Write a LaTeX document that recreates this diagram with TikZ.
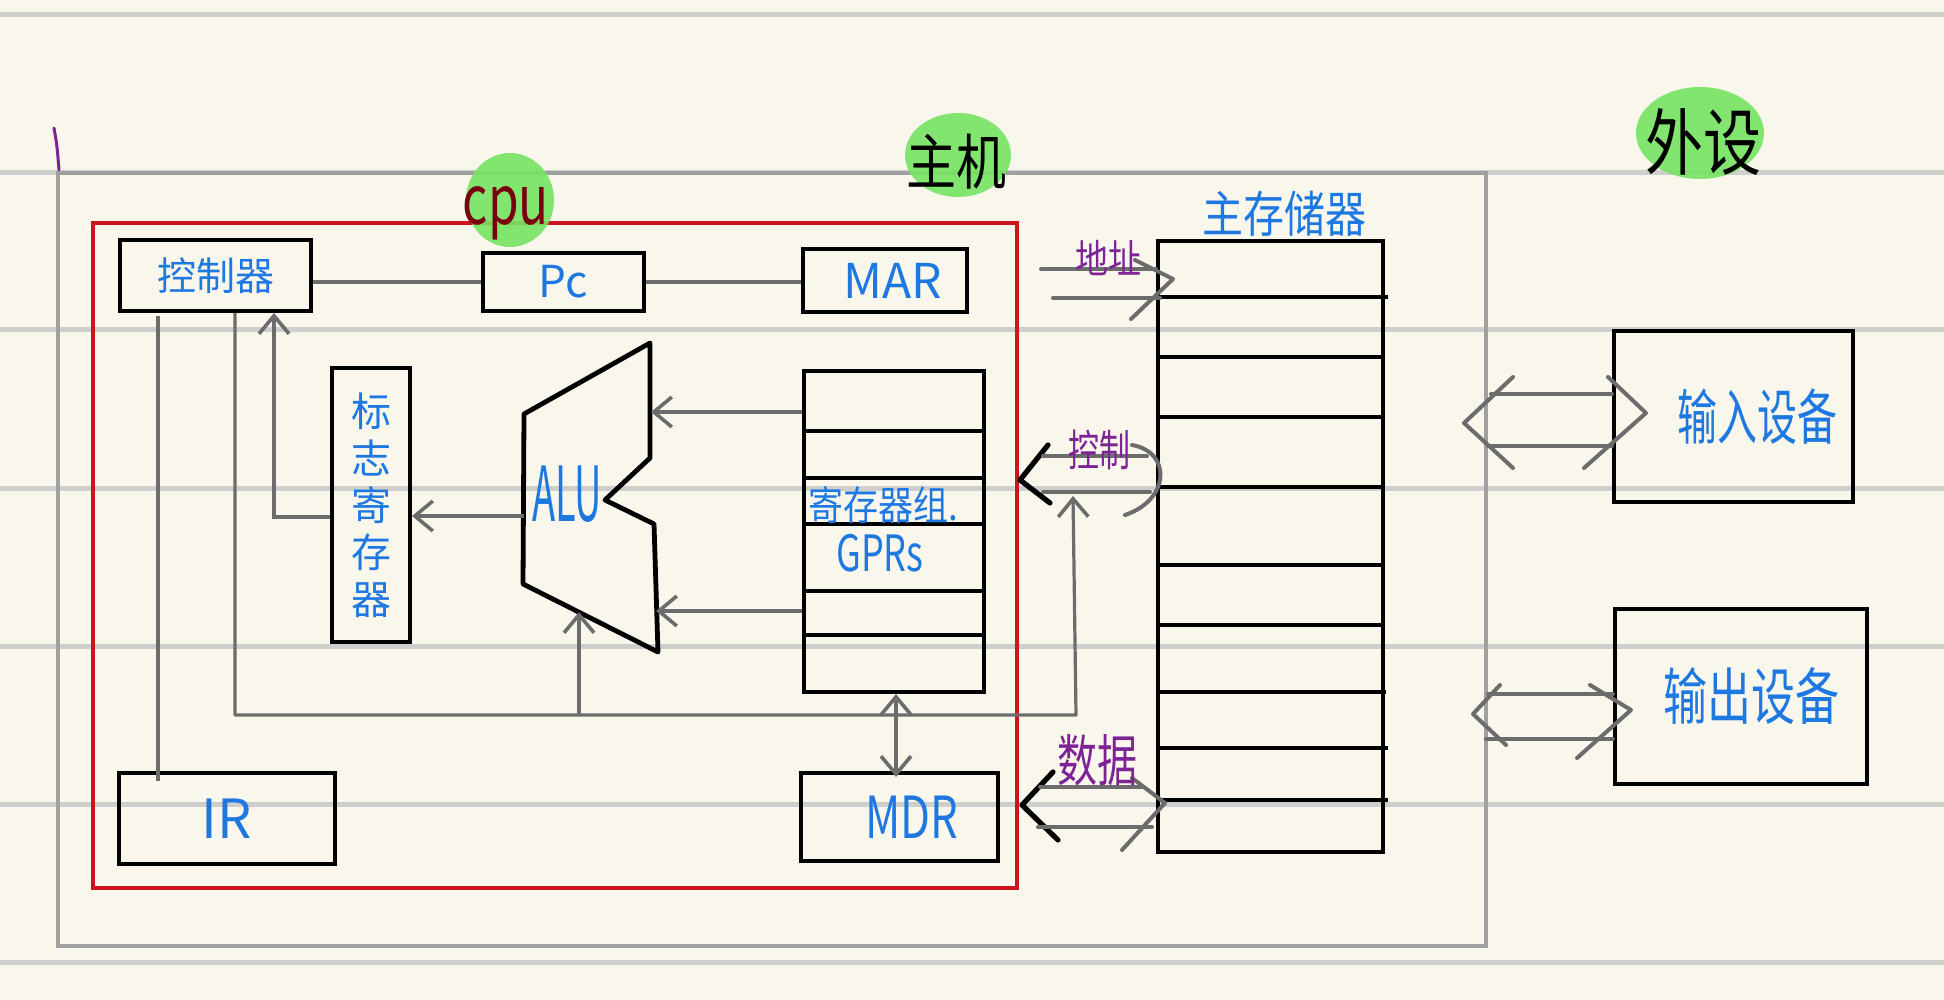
\documentclass[tikz,border=0pt]{standalone}
\usepackage{fontspec}
\setmainfont{Noto Sans CJK SC}
\usetikzlibrary{arrows.meta}
\definecolor{bg}{RGB}{249,246,236}
\definecolor{rulec}{RGB}{206,206,204}
\definecolor{hgray}{RGB}{108,108,108}
\definecolor{ogray}{RGB}{160,160,160}
\definecolor{hred}{RGB}{205,20,30}
\definecolor{hblue}{RGB}{30,120,225}
\definecolor{hpurple}{RGB}{125,35,150}
\definecolor{hdred}{RGB}{120,0,15}
\definecolor{hgreen}{RGB}{118,228,98}
\newcommand\myfs[1]{\fontsize{#1}{#1}\selectfont}
\begin{document}
\begin{tikzpicture}[x=0.5pt,y=-0.5pt,
  box/.style={draw=black,line width=2pt,inner sep=0pt},
  conn/.style={draw=hgray,line width=2pt},
  thinc/.style={draw=hgray,line width=1.6pt},
  vtip/.style={-{Straight Barb[length=9pt,width=15pt,line width=1.8pt]}},
  busg/.style={draw=hgray,line width=2pt,line cap=round,line join=round},
  busk/.style={draw=black,line width=2.6pt,line cap=round,line join=round},
  btxt/.style={text=hblue,inner sep=0pt},
  ptxt/.style={text=hpurple,inner sep=0pt},
]
\useasboundingbox (0,0) rectangle (1944,1000);
\fill[bg] (0,0) rectangle (1944,1000);
\foreach \yy in {15,173,330,488,646,804,962}
  \draw[rulec,line width=2.5pt] (0,\yy) -- (1944,\yy);

% containers
\node[draw=ogray,line width=2pt,minimum width=714pt,minimum height=386.5pt,inner sep=0pt] (host) at (772,559.5) {};
\node[draw=hred,line width=2pt,minimum width=462pt,minimum height=332.5pt,inner sep=0pt] (cpu) at (555,555.5) {};
\draw[hpurple,line width=1.5pt,line cap=round] (54,128) .. controls (57,145) .. (59,170);

% CPU parts
\node[box,minimum width=95.5pt,minimum height=35.5pt,text=hblue,font=\myfs{19.5}] (ctrl) at (215.5,275.5) {\raisebox{-2pt}{控制器}};
\node[box,minimum width=80.5pt,minimum height=29pt,text=hblue,font=\myfs{22}] (pc) at (563.5,282) {Pc};
\node[box,minimum width=82pt,minimum height=31.5pt,text=hblue,font=\myfs{24}] (mar) at (885,280.5) {\hspace*{8pt}MAR};
\node[box,minimum width=39pt,minimum height=137pt,text=hblue,align=center,font=\fontsize{20}{23.5}\selectfont] (flag) at (371,505) {标\\志\\寄\\存\\器};
\node[box,minimum width=90pt,minimum height=160.5pt] (gpr) at (894,531.5) {};
\foreach \yy in {431,478,524,591,635}
  \draw[black,line width=2pt] (gpr.west |- 0,\yy) -- (gpr.east |- 0,\yy);
\node[btxt,font=\myfs{17.5}] (gprl1) at (883,505) {\scalebox{1}[1.15]{寄存器组.}};
\node[btxt,font=\myfs{25}] (gprl2) at (880,553) {\scalebox{0.72}[1]{GPRs}};
\node[box,minimum width=108pt,minimum height=45.5pt,text=hblue,font=\myfs{27}] (ir) at (227,818.5) {IR};
\node[box,minimum width=98.5pt,minimum height=44pt,text=hblue,font=\myfs{29}] (mdr) at (899.5,817) {\hspace*{12pt}\scalebox{0.75}[1]{MDR}};

% ALU
\coordinate (a1) at (650,343);
\coordinate (a2) at (650,458);
\coordinate (a3) at (605,500);
\coordinate (a4) at (654,524);
\coordinate (a5) at (658,652);
\coordinate (a6) at (523,584);
\coordinate (a7) at (524,414);
\draw[black,line width=2.4pt,line join=round] (a1) -- (a2) -- (a3) -- (a4) -- (a5) -- (a6) -- (a7) -- cycle;
\node[btxt,font=\myfs{38}] (alu) at (567,494) {\scalebox{0.5}[1]{ALU}};

% main memory
\node[box,minimum width=112.5pt,minimum height=305.5pt] (mem) at (1270.5,546.5) {};
\foreach \yy/\xe in {297/1388,357/1384,417/1384,487/1383,565/1383,625/1384,692/1386,748/1388,800/1388}
  \draw[black,line width=2pt] (mem.west |- 0,\yy) -- (\xe,\yy);
\node[btxt,font=\myfs{20.5}] (meml) at (1284,214) {\scalebox{1}[1.2]{主存储器}};

% peripherals
\node[box,minimum width=119.5pt,minimum height=85.5pt,text=hblue,font=\myfs{20}] (in) at (1733.5,416.5) {\hspace*{24pt}\raisebox{-3pt}{\scalebox{1}[1.5]{输入设备}}};
\node[box,minimum width=126pt,minimum height=87.5pt,text=hblue,font=\myfs{22}] (out) at (1741,696.5) {\hspace*{10pt}\scalebox{1}[1.4]{输出设备}};

% green highlights and titles
\fill[hgreen,opacity=0.9] (510,200) ellipse [x radius=44, y radius=47];
\fill[hgreen,opacity=0.9] (958,155) ellipse [x radius=53, y radius=42];
\fill[hgreen,opacity=0.9] (1700,133) ellipse [x radius=64, y radius=46];
\node[text=hdred,inner sep=0pt,font=\myfs{31}] (cpul) at (506,213) {\scalebox{0.8}[1.1]{cpu}};
\node[text=black,inner sep=0pt,font=\myfs{25}] (hostl) at (956,162) {\scalebox{1}[1.2]{主机}};
\node[text=black,inner sep=0pt,font=\myfs{29}] (perl) at (1703,142) {\scalebox{1}[1.25]{外设}};

% connectors inside CPU
\draw[conn] (ctrl.east |- pc.west) -- (pc.west);
\draw[conn] (pc.east) -- (mar.west |- pc.east);
\coordinate (aluIn1) at (651,412);
\coordinate (aluIn2) at (656,611);
\coordinate (aluOut) at (524,516);
\draw[conn,vtip] (gpr.west |- aluIn1) -- (aluIn1);
\draw[conn,vtip] (gpr.west |- aluIn2) -- (aluIn2);
\draw[conn,vtip] (aluOut) -- (flag.east |- aluOut);
\coordinate (fb) at (274,517);
\draw[conn,vtip] (flag.west |- fb) -- (fb) -- (fb |- ctrl.south);
\coordinate (irx) at (158,316);
\draw[thinc] (irx) -- ([yshift=-5pt]ir.north -| irx);
\coordinate (cb1) at (235,715);
\coordinate (cb2) at (1076,715);
\coordinate (ctlTip) at (1073,496);
\draw[thinc,vtip,line join=round] (ctrl.south -| cb1) -- (cb1) -- (cb2) -- (ctlTip);
\coordinate (aluB) at (579,612);
\draw[thinc,vtip] (aluB |- cb1) -- (aluB);
\coordinate (gm) at (896,693);
\draw[thinc,{Straight Barb[length=9pt,width=15pt,line width=1.8pt]}-{Straight Barb[length=9pt,width=15pt,line width=1.8pt]}] (gpr.south -| gm) -- ([yshift=-3pt]mdr.north -| gm);

% address bus
\draw[busg] (1041,269) -- (1156,269);
\draw[busg] (1053,298) -- (1160,298);
\draw[busg] (1135,260) -- (1173,279) -- (1131,319);
\node[ptxt,font=\myfs{16.5}] (addrl) at (1108,258) {\scalebox{1}[1.2]{地址}};

% control bus
\draw[busk] (1048,445) -- (1020,480) -- (1050,503);
\draw[busg] (1043,456) -- (1147,456);
\draw[busg] (1043,492) -- (1150,492);
\draw[busg] (1132,445) .. controls (1172,452) and (1170,500) .. (1125,515);
\node[ptxt,font=\myfs{15.5}] (ctll) at (1099,450) {\scalebox{1}[1.4]{控制}};

% data bus
\draw[busk] (1053,772) -- (1022,805) -- (1058,840);
\draw[busg] (1040,787) -- (1143,787);
\draw[busg] (1038,827) -- (1152,827);
\draw[busg] (1132,778) -- (1165,803) -- (1122,850);
\node[ptxt,font=\myfs{20}] (datal) at (1097,760) {\scalebox{1}[1.4]{数据}};

% input device bus
\draw[busg] (1491,394) -- (in.west |- 0,394);
\draw[busg] (1488,446) -- (in.west |- 0,446);
\draw[busg] (1513,377) -- (1464,423) -- (1513,468);
\draw[busg] (1608,377) -- (1646,413) -- (1584,468);

% output device bus
\draw[busg] (1488,694) -- (out.west |- 0,694);
\draw[busg] (1486,739) -- (out.west |- 0,739);
\draw[busg] (1500,685) -- (1473,714) -- (1506,745);
\draw[busg] (1590,685) -- (1631,710) -- (1577,758);
\end{tikzpicture}
\end{document}
